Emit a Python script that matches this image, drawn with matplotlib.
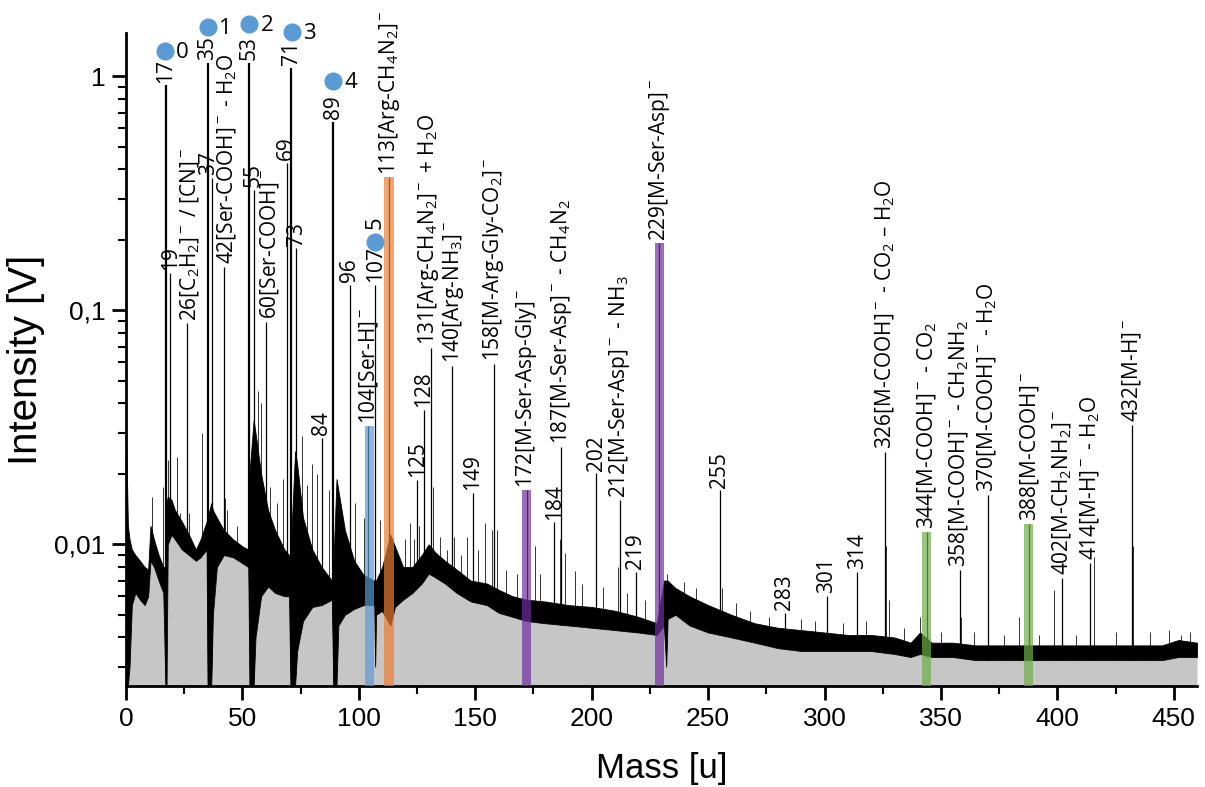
import matplotlib
matplotlib.use('Agg')
import matplotlib.pyplot as plt
from matplotlib.ticker import MultipleLocator, FixedLocator, FixedFormatter, LogLocator, NullFormatter

plt.rcParams['font.family'] = ['Liberation Sans', 'DejaVu Sans']
plt.rcParams['mathtext.default'] = 'regular'

# noise band of the trace: upper and lower edge
band_mass = [0, 0.8, 1.5, 2.5, 4, 6, 8, 9.5, 10.5, 12,
             14, 16, 16.9, 17.4, 17.9, 19.5, 21, 24, 27, 30,
             32, 34.6, 35.0, 36.6, 37.3, 39, 42, 46, 50, 52.5,
             53.0, 54.8, 55.6, 58, 61, 64, 68, 70.0, 70.6, 72.6,
             73.5, 76, 80, 84, 88.4, 89.0, 90.4, 91.2, 94, 98,
             102, 106.6, 107.0, 107.4, 110, 113.5, 115.5, 119, 123, 127,
             130, 133, 137, 142, 148, 155, 160, 166, 172, 180,
             190, 200, 210, 220, 228, 231.0, 232.0, 232.6, 236, 242,
             250, 260, 270, 280, 290, 300, 310, 320, 330, 337,
             341, 346, 355, 365, 375, 385, 395, 405, 420, 435,
             445, 452, 460]
band_hi = [0.030, 0.012, 0.0105, 0.0095, 0.0090, 0.0085, 0.0080, 0.0078, 0.0120, 0.0105,
           0.0090, 0.0080, 0.0080, 0.0150, 0.0160, 0.0155, 0.0140, 0.0125, 0.0110, 0.0095,
           0.0105, 0.0125, 0.0130, 0.0150, 0.0140, 0.0130, 0.0115, 0.0105, 0.0098, 0.0095,
           0.0200, 0.0340, 0.0300, 0.0200, 0.0140, 0.0115, 0.0095, 0.0090, 0.0090, 0.0250,
           0.0220, 0.0130, 0.0095, 0.0080, 0.0070, 0.0080, 0.0190, 0.0170, 0.0115, 0.0085,
           0.0074, 0.0070, 0.0070, 0.0070, 0.0080, 0.0110, 0.0098, 0.0080, 0.0080, 0.0090,
           0.0100, 0.0092, 0.0085, 0.0078, 0.0070, 0.0068, 0.0064, 0.0060, 0.0058, 0.0057,
           0.0055, 0.0054, 0.0052, 0.0049, 0.0046, 0.0070, 0.0070, 0.0070, 0.0065, 0.0060,
           0.0055, 0.0050, 0.0046, 0.0044, 0.0043, 0.0042, 0.0041, 0.0041, 0.0040, 0.0038,
           0.0042, 0.0038, 0.0038, 0.0037, 0.0037, 0.0037, 0.0037, 0.0037, 0.0037, 0.0037,
           0.0037, 0.0039, 0.0038]
band_lo = [0.0025, 0.0025, 0.0030, 0.0055, 0.0062, 0.0058, 0.0055, 0.0060, 0.0085, 0.0080,
           0.0070, 0.0062, 0.0025, 0.0025, 0.0100, 0.0110, 0.0105, 0.0095, 0.0090, 0.0085,
           0.0088, 0.0095, 0.0025, 0.0025, 0.0050, 0.0080, 0.0090, 0.0088, 0.0083, 0.0080,
           0.0025, 0.0025, 0.0040, 0.0060, 0.0066, 0.0062, 0.0060, 0.0060, 0.0025, 0.0025,
           0.0035, 0.0047, 0.0054, 0.0055, 0.0058, 0.0025, 0.0025, 0.0045, 0.0050, 0.0053,
           0.0055, 0.0055, 0.0030, 0.0050, 0.0052, 0.0045, 0.0054, 0.0058, 0.0062, 0.0068,
           0.0075, 0.0072, 0.0068, 0.0062, 0.0057, 0.0055, 0.0051, 0.0049, 0.0047, 0.0046,
           0.0045, 0.0044, 0.0043, 0.0042, 0.0041, 0.0045, 0.0030, 0.0048, 0.0050, 0.0045,
           0.0042, 0.0040, 0.0038, 0.0036, 0.0035, 0.0035, 0.0035, 0.0035, 0.0034, 0.0033,
           0.0034, 0.0033, 0.0033, 0.0032, 0.0032, 0.0032, 0.0032, 0.0032, 0.0032, 0.0032,
           0.0032, 0.0033, 0.0033]

# labelled peaks
peak_mass = [17, 19, 26, 35, 37, 42, 53, 55, 60, 69, 71, 73, 84, 89, 96, 104, 107, 113,
             125, 128, 131, 140, 149, 158, 172, 184, 187, 202, 212, 219, 229, 255,
             283, 301, 314, 326, 344, 358, 370, 388, 402, 414, 432]
peak_height = [0.915, 0.145, 0.088, 1.14, 0.367, 0.153, 1.14, 0.326, 0.089, 0.425, 1.09, 0.184,
               0.0286, 0.636, 0.128, 0.0319, 0.128, 0.37, 0.0188, 0.0374, 0.069, 0.058, 0.0166,
               0.0592, 0.017, 0.0124, 0.0261, 0.0201, 0.0154, 0.0076, 0.193, 0.017, 0.0051,
               0.006, 0.0076, 0.0249, 0.0113, 0.0078, 0.0163, 0.0122, 0.0072, 0.0083, 0.0323]
peak_label = ['17', '19', '26[C$_2$H$_2$]$^-$ / [CN]$^-$', '35', '37',
              '42[Ser-COOH]$^-$ - H$_2$O', '53', '55', '60[Ser-COOH]$^-$', '69', '71', '73',
              '84', '89', '96', '104[Ser-H]$^-$', '107', '113[Arg-CH$_4$N$_2$]$^-$',
              '125', '128', '131[Arg-CH$_4$N$_2$]$^-$ + H$_2$O', '140[Arg-NH$_3$]$^-$', '149',
              '158[M-Arg-Gly-CO$_2$]$^-$', '172[M-Ser-Asp-Gly]$^-$', '184',
              '187[M-Ser-Asp]$^-$ - CH$_4$N$_2$', '202', '212[M-Ser-Asp]$^-$ - NH$_3$', '219',
              '229[M-Ser-Asp]$^-$', '255', '283', '301', '314',
              '326[M-COOH]$^-$ - CO$_2$ \u2013 H$_2$O', '344[M-COOH]$^-$ - CO$_2$',
              '358[M-COOH]$^-$ - CH$_2$NH$_2$', '370[M-COOH]$^-$ - H$_2$O', '388[M-COOH]$^-$',
              '402[M-CH$_2$NH$_2$]$^-$', '414[M-H]$^-$ - H$_2$O', '432[M-H]$^-$']
big_peaks = [17, 35, 53, 71, 89]

# smaller unlabelled lines
minor_mass = [11.0, 13.2, 16.0, 18.2, 21.8, 23.2, 27.2, 32.5, 42.6, 43.2,
              47.5, 56.5, 58.0, 62.0, 64.7, 67.6, 75.5, 77.6, 79.7, 81.9,
              87.3, 98.4, 102.0, 109.2, 120.0, 122.0, 123.5, 126.0, 132.0, 135.0,
              138.0, 141.0, 144.0, 146.4, 151.0, 154.3, 157.1, 159.5, 163.0, 168.0,
              175.7, 178.0, 186.5, 188.6, 192.9, 196.0, 205.0, 211.5, 215.0, 223.0,
              232.3, 239.5, 245.0, 256.0, 262.0, 268.0, 276.0, 290.0, 296.0, 308.0,
              318.0, 326.6, 327.6, 334.0, 341.2, 350.0, 358.6, 364.0, 370.4, 377.0,
              383.5, 392.0, 398.5, 408.0, 415.7, 425.0, 432.4, 440.0, 448.0, 453.0,
              457.0]
minor_height = [0.016, 0.0092, 0.0176, 0.023, 0.0236, 0.0136, 0.0136, 0.030, 0.0157, 0.014,
                0.012, 0.045, 0.040, 0.0176, 0.015, 0.019, 0.029, 0.018, 0.022, 0.020,
                0.017, 0.015, 0.013, 0.0127, 0.0105, 0.0123, 0.0105, 0.012, 0.0176, 0.0107,
                0.0095, 0.0107, 0.009, 0.0107, 0.0095, 0.0123, 0.0115, 0.0115, 0.0078, 0.0075,
                0.0098, 0.0075, 0.0105, 0.0092, 0.0077, 0.0068, 0.0066, 0.0080, 0.0062, 0.0058,
                0.0075, 0.0069, 0.0065, 0.0065, 0.0056, 0.0052, 0.0049, 0.0048, 0.0047, 0.0046,
                0.0047, 0.0098, 0.0058, 0.0044, 0.0049, 0.0042, 0.0049, 0.0042, 0.0058, 0.0041,
                0.0049, 0.0041, 0.0064, 0.0041, 0.0088, 0.0042, 0.0098, 0.0042, 0.0043, 0.0041,
                0.0042]

# highlighted masses
bar_mass = [104.6, 113, 172, 229.2, 343.7, 387.5]
bar_top = [0.0319, 0.37, 0.017, 0.193, 0.0113, 0.0122]
bar_color = ['#5b9bd5', '#ed7d31', '#7030a0', '#7030a0', '#70ad47', '#70ad47']

# numbered markers
spot_mass = [16.8, 35.3, 53.0, 71.1, 89.1, 107.0]
spot_y = [1.28, 1.62, 1.67, 1.55, 0.955, 0.196]
spot_label = ['0', '1', '2', '3', '4', '5']

ytick_vals = [0.01, 0.1, 1]
ytick_text = ['0,01', '0,1', '1']

ymin, ymax = 0.00248, 1.53
lab_font = ['Open Sans', 'DejaVu Sans']
# small sideways shifts (points) for labels that sit off their line
nudge = {26: 2.5, 37: -2.5, 42: 2.5, 55: -1, 60: 2.5, 131: -1.5, 140: 1}

fig = plt.figure(figsize=(12.05, 7.87), dpi=100)
ax = fig.add_axes([0.1046, 0.1283, 0.8888, 0.8297])
ax.set_yscale('log')
ax.set_xlim(0, 460)
ax.set_ylim(ymin, ymax)

lw = [1.6 if m in big_peaks else 0.9 for m in peak_mass]
ax.vlines(minor_mass, ymin, minor_height, color='#333333', lw=0.7, zorder=1)
ax.vlines(peak_mass, ymin, peak_height, color='black', lw=lw, zorder=1)
ax.fill_between(band_mass, ymin, band_lo, color='#c6c6c6', lw=0, zorder=2)
ax.fill_between(band_mass, band_lo, band_hi, color='black', lw=0.6, zorder=3)
ax.bar(bar_mass, [t - ymin for t in bar_top], width=4, bottom=ymin,
       color=bar_color, alpha=0.7, zorder=4)

for m, h, s in zip(peak_mass, peak_height, peak_label):
    ax.annotate(s, (m, h), xytext=(nudge.get(m, 0), 2), textcoords='offset points',
                rotation=90, ha='center', va='bottom', fontsize=15, family=lab_font,
                zorder=5, annotation_clip=False)

ax.plot(spot_mass, spot_y, 'o', ms=12, color='#5b9bd5', clip_on=False, zorder=6)
for m, v, s in zip(spot_mass, spot_y, spot_label):
    if s == '5':
        ax.annotate(s, (m, v), xytext=(0, 9), textcoords='offset points', rotation=90,
                    ha='center', va='bottom', fontsize=16, family=lab_font,
                    annotation_clip=False)
    else:
        ax.annotate(s, (m, v), xytext=(8, -1), textcoords='offset points',
                    ha='left', va='center', fontsize=16, family=lab_font,
                    annotation_clip=False)

ax.spines['top'].set_visible(False)
ax.spines['right'].set_visible(False)
ax.spines['left'].set_linewidth(2)
ax.spines['bottom'].set_linewidth(2)

ax.xaxis.set_major_locator(MultipleLocator(50))
ax.xaxis.set_minor_locator(MultipleLocator(25))
ax.yaxis.set_major_locator(FixedLocator(ytick_vals))
ax.yaxis.set_major_formatter(FixedFormatter(ytick_text))
ax.yaxis.set_minor_locator(LogLocator(base=10, subs=range(2, 10)))
ax.yaxis.set_minor_formatter(NullFormatter())
ax.tick_params(which='major', direction='out', length=10, width=2, labelsize=19, pad=5)
ax.tick_params(which='minor', direction='out', length=6, width=1.5)

ax.set_xlabel('Mass [u]', fontsize=25, va='center')
ax.xaxis.set_label_coords(0.5, -0.1256)
ax.set_ylabel('Intensity [V]', fontsize=29, va='center')
ax.yaxis.set_label_coords(-0.0934, 0.5)

plt.savefig('out.png', dpi=100)
